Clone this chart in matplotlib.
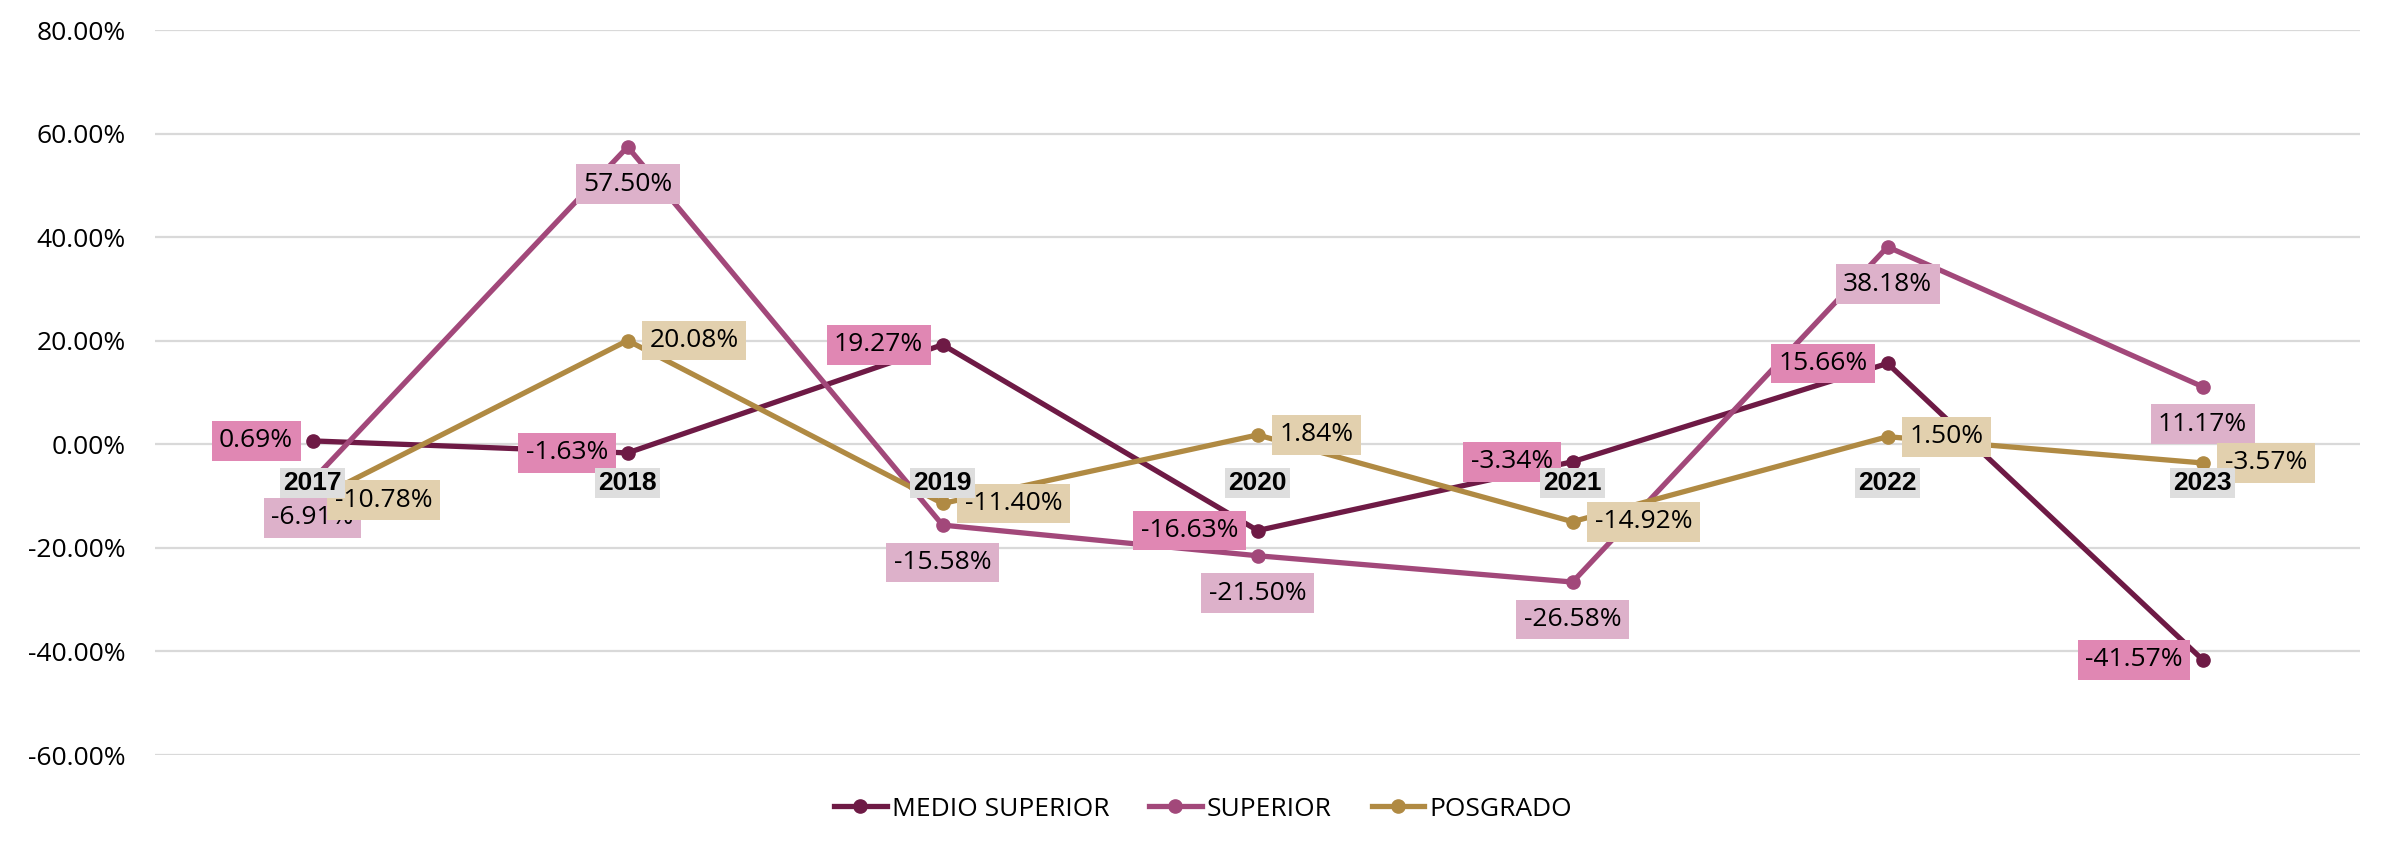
import matplotlib.pyplot as plt
from matplotlib.ticker import FuncFormatter

plt.rcParams['font.family'] = ['Open Sans', 'DejaVu Sans']

years = ['2017', '2018', '2019', '2020', '2021', '2022', '2023']
medio_superior = [0.69, -1.63, 19.27, -16.63, -3.34, 15.66, -41.57]
superior = [-6.91, 57.50, -15.58, -21.50, -26.58, 38.18, 11.17]
posgrado = [-10.78, 20.08, -11.40, 1.84, -14.92, 1.50, -3.57]

# name, values, line colour, label background, label offset (pt), alignment
series = [
    ('MEDIO SUPERIOR', medio_superior, '#6E1A45', '#E087B3', (-14, 0), 'right'),
    ('SUPERIOR', superior, '#A2487A', '#DDB1CA', (0, -27), 'center'),
    ('POSGRADO', posgrado, '#B08A43', '#E2D0AE', (16, 0), 'left'),
]
fs = 19

fig = plt.figure(figsize=(23.87, 8.49), dpi=100)
ax = fig.add_axes([0.065, 0.1107, 0.9237, 0.8535])
x = list(range(len(years)))

for name, vals, color, bg, off, ha in series:
    ax.plot(x, vals, color=color, lw=3.8, marker='o', ms=9.5, label=name, zorder=3)

# data labels
for name, vals, color, bg, off, ha in series:
    for xi, v in zip(x, vals):
        ax.annotate(f'{v:.2f}%', (xi, v), xytext=off, textcoords='offset points',
                    ha=ha, va='center', fontsize=fs, zorder=4,
                    bbox=dict(boxstyle='square,pad=0.28', fc=bg, ec='none'))

# category axis sits on the zero line
ax.set_xlim(-0.5, len(years) - 0.5)
ax.set_xticks(x, years)
ax.spines['bottom'].set_position(('data', 0))
ax.tick_params(axis='x', length=0, pad=19, labelsize=fs)
for lbl in ax.get_xticklabels():
    lbl.set_fontfamily(['Liberation Sans', 'DejaVu Sans'])
    lbl.set_fontweight('bold')
    lbl.set_bbox(dict(boxstyle='square,pad=0.12', fc='#DEDEDE', ec='none'))
ax.xaxis.set_zorder(10)

ax.set_ylim(-60, 80)
ax.set_yticks(range(-60, 81, 20))
ax.yaxis.set_major_formatter(FuncFormatter(lambda v, p: f'{v:.2f}%'))
ax.tick_params(axis='y', length=0, pad=21, labelsize=fs)
ax.grid(axis='y', color='#D9D9D9', lw=1.6)
ax.yaxis.set_zorder(0.5)

for s in ax.spines.values():
    s.set_visible(False)

fig.legend(loc='center', bbox_to_anchor=(0.504, 0.047), ncol=3, frameon=False,
           fontsize=fs, handlelength=2.0, handletextpad=0.2, columnspacing=1.5)

fig.savefig('out.png', dpi=100)
